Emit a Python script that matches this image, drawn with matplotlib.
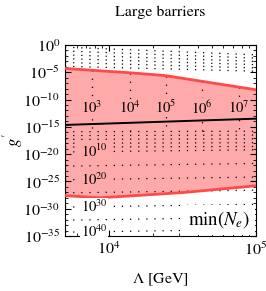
import numpy as np
import matplotlib
matplotlib.use('Agg')
import matplotlib.pyplot as plt
from matplotlib.ticker import NullFormatter

plt.rcParams['font.family'] = 'STIXGeneral'
plt.rcParams['mathtext.fontset'] = 'stix'

# red band edges, log10(g')
lam_upper = [5000, 14000, 24000, 100000]
g_upper = [-4.3, -5.1, -5.6, -8.2]
lam_lower = [5000, 8600, 30000, 100000]
g_lower = [-27.6, -28.0, -27.1, -25.8]

# black line
lam_line = [5000, 100000]
g_line = [-14.65, -13.5]

# vertical contours of N_e (upper part)
vert_lam = [7640, 13900, 24400, 42900, 76600]
vert_labels = ['3', '4', '5', '6', '7']
vert_label_g = -11.5
vert_bottom = -16.0

# dense contour bands (log10 g' at left and right edge)
top_band_left = [-0.4, -1.1, -1.8, -2.5, -3.2, -3.9]
top_band_right = [-1.8, -2.4, -3.0, -3.6, -4.2, -4.8]
mid_band_left = [-15.9, -16.6, -17.3, -18.0, -18.7]
mid_band_right = [-15.8, -16.5, -17.2, -17.9, -18.6]

# horizontal contours of N_e (lower part)
horiz_left = [-19.6, -22.2, -24.7, -27.1, -29.7, -32.1, -34.3]
horiz_right = [-19.2, -21.7, -24.2, -26.6, -29.2, -31.6, -33.8]
horiz_labels = {0: '10', 2: '20', 4: '30', 6: '40'}
horiz_label_lam = 7900

lam_min, lam_max = 5000, 100000
pink = '#ffaaaa'
red = '#ff4a4a'
dots = dict(color='k', lw=0.9, dashes=(1, 5.5), zorder=2)

fig = plt.figure(figsize=(2.66, 2.91), dpi=100)
ax = fig.add_axes([65/266, 1-236/291, 191/266, 191/291])

# red region
lam_fill = np.geomspace(lam_min, lam_max, 200)
up = np.interp(np.log10(lam_fill), np.log10(lam_upper), g_upper)
lo = np.interp(np.log10(lam_fill), np.log10(lam_lower), g_lower)
ax.fill_between(lam_fill, 10.0**lo, 10.0**up, color=pink, lw=0, zorder=1)
ax.plot(lam_upper, 10.0**np.array(g_upper), color=red, lw=2, zorder=3)
ax.plot(lam_fill, 10.0**lo, color=red, lw=2, zorder=3)

# dotted contours
for gl, gr in zip(top_band_left + mid_band_left, top_band_right + mid_band_right):
    ax.plot([lam_min, lam_max], [10.0**gl, 10.0**gr], **dots)
for gl, gr in zip(horiz_left, horiz_right):
    ax.plot([lam_min, lam_max], [10.0**gl, 10.0**gr], **dots)
for lam, lab in zip(vert_lam, vert_labels):
    gtop = np.interp(np.log10(lam), np.log10(lam_upper), g_upper)
    ax.plot([lam, lam], [10.0**gtop, 10.0**vert_bottom], **dots)
    ax.text(lam, 10.0**vert_label_g, r'$10^{%s}$' % lab, ha='center', va='center',
            fontsize=10.5, zorder=5,
            bbox=dict(facecolor=pink, edgecolor='none', pad=0.5))
for i, lab in horiz_labels.items():
    gl = horiz_left[i] + (horiz_right[i] - horiz_left[i]) * np.log10(horiz_label_lam / lam_min) / np.log10(lam_max / lam_min)
    inside = np.interp(np.log10(horiz_label_lam), np.log10(lam_lower), g_lower) < gl
    ax.text(horiz_label_lam, 10.0**gl, r'$10^{%s}$' % lab, ha='center', va='center',
            fontsize=10.5, zorder=5,
            bbox=dict(facecolor=pink if inside else 'white', edgecolor='none', pad=0.5))

# black line
ax.plot(lam_line, 10.0**np.array(g_line), color='k', lw=1.4, zorder=4)

ax.text(0.806, 0.084, r'$\mathrm{min}(N_e)$', transform=ax.transAxes, ha='center',
        va='center', fontsize=13.5, zorder=6,
        bbox=dict(facecolor='white', edgecolor='none', boxstyle='square,pad=0.25'))

ax.set_xscale('log')
ax.set_yscale('log')
ax.set_xlim(lam_min, lam_max)
ax.set_ylim(1e-35, 1e0)
ax.yaxis.set_major_locator(plt.FixedLocator([10.0**e for e in range(-35, 1, 5)]))
ax.yaxis.set_minor_locator(plt.FixedLocator([10.0**e for e in range(-35, 1)]))
ax.yaxis.set_minor_formatter(NullFormatter())
ax.xaxis.set_minor_formatter(NullFormatter())
ax.tick_params(which='both', direction='in', top=True, right=True, labelsize=11.5)
ax.tick_params(which='major', length=4)
ax.tick_params(which='minor', length=2)

ax.set_title('Large barriers', fontsize=11.5, pad=21)
ax.set_xlabel(r'$\Lambda$ [GeV]', fontsize=11.5, labelpad=10)
ax.set_ylabel(r"$g^{\prime}$", fontsize=12, va='center')
ax.yaxis.set_label_coords(-0.27, 0.5)

fig.savefig('out.png', dpi=100)
